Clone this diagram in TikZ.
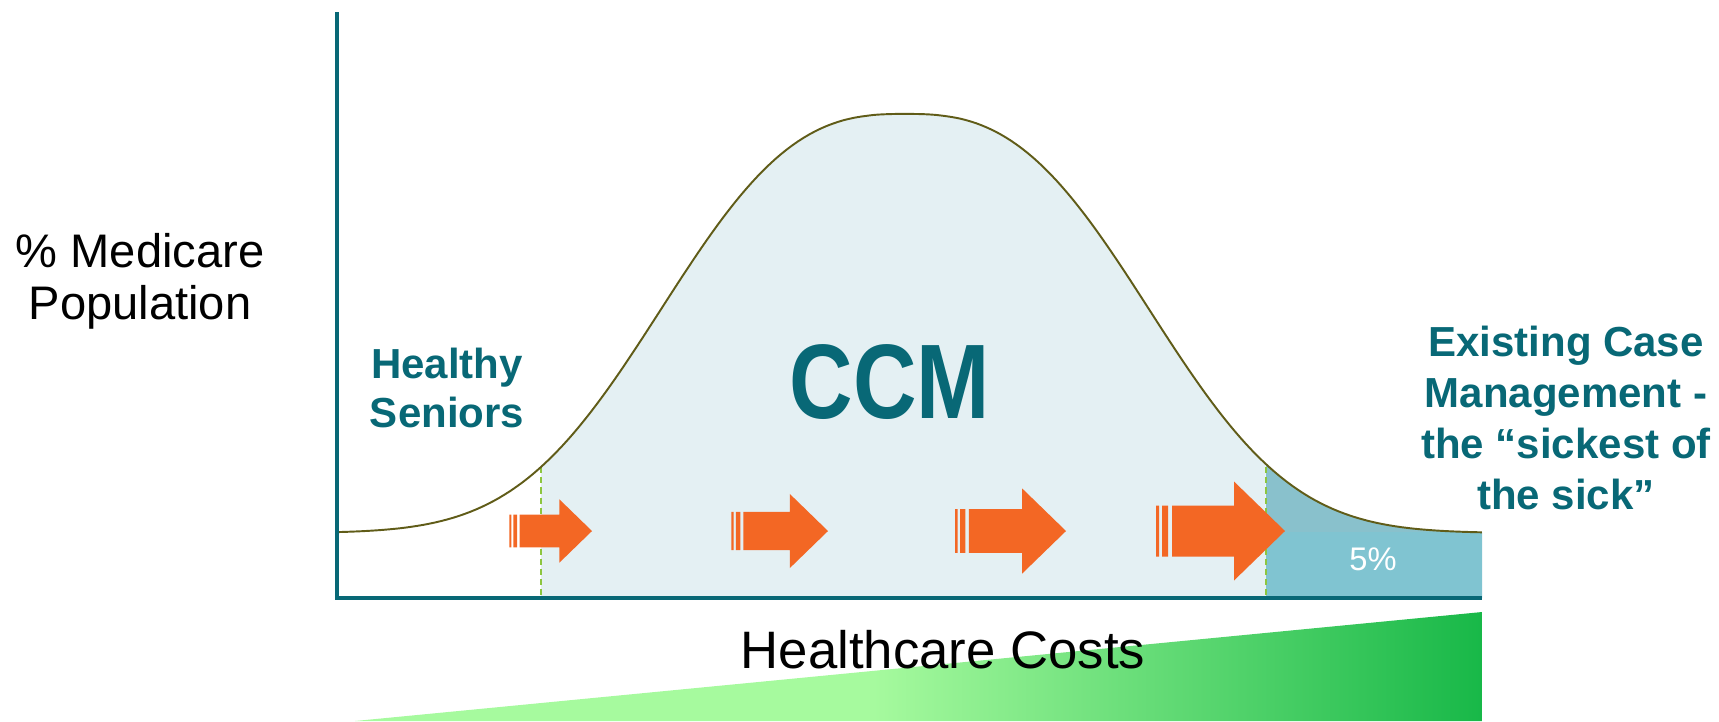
\documentclass[tikz,border=0pt]{standalone}
\usepackage{fontspec}
\setmainfont{Liberation Sans}

\definecolor{axisteal}{RGB}{8,104,118}
\definecolor{curveolive}{RGB}{96,92,24}
\definecolor{ccmfill}{RGB}{228,240,243}
\definecolor{tailfill}{RGB}{137,193,204}
\definecolor{tailbase}{RGB}{128,196,209}
\definecolor{arroworange}{RGB}{243,103,36}
\definecolor{cutgreen}{RGB}{141,198,63}
\definecolor{costlight}{RGB}{166,250,158}
\definecolor{costdark}{RGB}{24,184,72}

\pgfdeclarehorizontalshading{costshade}{100bp}{color(0bp)=(costlight); color(25bp)=(costlight);
  color(48bp)=(costlight); color(75bp)=(costdark); color(100bp)=(costdark)}

% flat-topped bell, \x runs in units of 290px from the peak
\def\bellx{905+290*\x}
\def\belly{533-419*exp(-exp(2.7*ln(abs(\x)+0.0001)))}

\begin{document}
\begin{tikzpicture}[x=0.02cm, y=-0.02cm,
    axis/.style={draw=axisteal, line width=2.3pt},
    bell/.style={draw=curveolive, line width=1.1pt},
    cut/.style={draw=cutgreen, line width=0.6pt, dash pattern=on 3.5pt off 2.3pt},
    axlbl/.style={font=\fontsize{26.8}{29.6}\selectfont, align=center},
    grplbl/.style={text=axisteal, font=\bfseries\fontsize{23.9}{27.5}\selectfont, align=center},
    ccmlbl/.style={text=axisteal, font=\bfseries\fontsize{60.3}{64}\selectfont},
    pctlbl/.style={text=white, font=\fontsize{18.6}{20}\selectfont}]
  \useasboundingbox (0,0) rectangle (1719,721);

  \coordinate (origin) at (337,598);
  \coordinate (ytop)   at (337,12);
  \coordinate (xend)   at (1482,598);
  \coordinate (cutL)   at (541,467);
  \coordinate (cutR)   at (1266,467);

  % cost wedge
  \shade[shading=costshade] (355,721) -- (1482,612) -- (1482,721) -- cycle;

  % areas under the bell
  \fill[ccmfill] plot[domain=-1.2552:1.2448, samples=100] ({\bellx},{\belly}) -- (cutR |- origin) -- (cutL |- origin) -- cycle;
  \fill[tailfill] plot[domain=1.2448:1.990, samples=40] ({\bellx},{\belly}) -- (xend) -- (cutR |- origin) -- cycle;
  \fill[tailbase] (1266,532) rectangle (xend);

  \draw[cut] (cutL) -- (cutL |- origin);
  \draw[cut] (cutR) -- (cutR |- origin);
  \draw[bell] plot[domain=-1.955:1.990, samples=200] ({\bellx},{\belly});

  % arrows
  \foreach \tip/\s in {592/0.64, 828/0.75, 1066/0.86, 1285/1} {
    \begin{scope}[shift={(\tip,531)}, scale=\s]
      \fill[arroworange] (0,0) -- (-51,-49.5) -- (-51,-25.5) -- (-113,-25.5) -- (-113,25.5)
        -- (-51,25.5) -- (-51,49.5) -- cycle;
      \fill[arroworange] (-129,-25.5) rectangle (-126,25.5) (-123,-25.5) rectangle (-117,25.5);
    \end{scope}
  }

  \draw[axis] (ytop) |- (xend);

  \node[axlbl] (popLbl) at (140,281) {\% Medicare\\Population};
  \node[grplbl] (healthy) at (447,388) {Healthy\\Seniors};
  \node[ccmlbl, anchor=base] (ccm) at (890,418) {\scalebox{0.83}[1]{CCM}};
  \node[grplbl, font=\bfseries\fontsize{23.9}{29}\selectfont] (existing) at (1566,418)
    {Existing Case\\Management -\\the “sickest of\\the sick”};
  \node[pctlbl, anchor=base] (pct) at (1373,570) {5\%};
  \node[axlbl, font=\fontsize{30}{32}\selectfont, anchor=base] (costLbl) at (943,668) {Healthcare Costs};
\end{tikzpicture}
\end{document}
